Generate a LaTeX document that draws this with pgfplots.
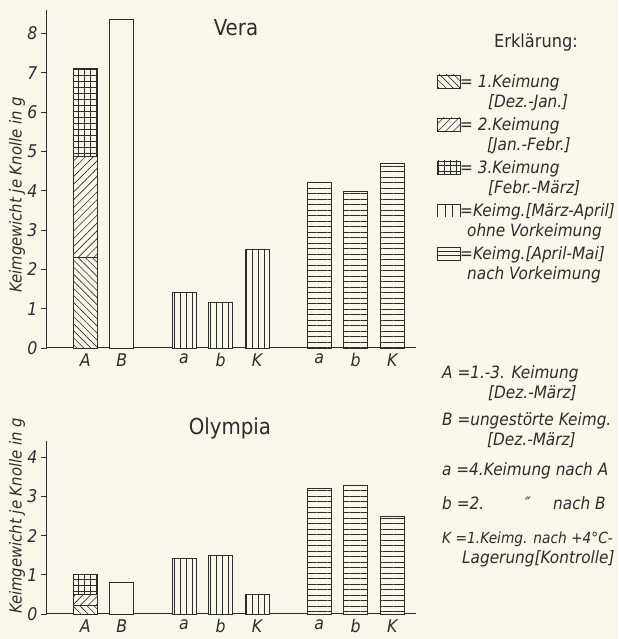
\documentclass[border=0pt]{standalone}
\usepackage{fontspec}
\setmainfont{DejaVu Sans Condensed}
\usepackage{pgfplots}
\pgfplotsset{compat=1.18}
\usetikzlibrary{patterns.meta}
\definecolor{paper}{RGB}{249,246,234}
\definecolor{ink}{RGB}{45,45,45}
\tikzset{
  pA/.style={pattern={Lines[angle=-45,distance=5pt,line width=0.6pt]},pattern color=ink},
  pB/.style={pattern={Lines[angle=45,distance=5.5pt,line width=0.6pt]},pattern color=ink},
  pC/.style={pattern={Hatch[angle=0,distance=6pt,line width=0.6pt]},pattern color=ink},
  pD/.style={pattern={Lines[angle=90,distance=6pt,line width=0.6pt]},pattern color=ink},
  pE/.style={pattern={Lines[angle=0,distance=5.5pt,line width=0.6pt]},pattern color=ink},
  lt/.style={anchor=base west,font=\fontsize{17}{17}\selectfont\itshape,inner sep=0pt,text=ink},
}
\pgfplotsset{
  bars/.style={ybar,bar width=24pt,bar shift=0pt,draw=ink,line width=0.9pt,fill=paper},
  b1/.style={bars,postaction={pA}},
  b2/.style={bars,postaction={pB}},
  b3/.style={bars,postaction={pC}},
  b4/.style={bars,postaction={pD}},
  b5/.style={bars,postaction={pE}},
  b0/.style={bars},
  common/.style={
    scale only axis,anchor=south west,
    width=369pt,xmin=-1.05,xmax=9.05,ymin=0,
    axis lines=left,axis line style={-,line width=1pt,draw=ink},
    xtick={0,1,2.7,3.7,4.7,6.4,7.4,8.4},
    xticklabels={A,B,a,b,K,a,b,K},
    xtick style={draw=none},
    xticklabel style={inner sep=0.5pt,yshift=1pt},
    tick align=outside,major tick length=6pt,
    ytick style={line width=0.8pt,draw=ink},
    tick label style={font=\fontsize{17.5}{17.5}\selectfont\itshape,text=ink},
    /pgf/number format/assume math mode=true,
    clip=false,
  },
}
\begin{document}
\begin{tikzpicture}
\fill[paper] (0pt,0pt) rectangle (618pt,639pt);
\path[use as bounding box] (0pt,0pt) rectangle (618pt,639pt);
% Vera
\begin{axis}[common,at={(47pt,291pt)},height=338pt,ymax=8.6,ytick={0,1,2,3,4,5,6,7,8}]
\addplot[b3] coordinates {(0,7.1)};
\addplot[b2] coordinates {(0,4.88)};
\addplot[b1] coordinates {(0,2.3)};
\addplot[b0] coordinates {(1,8.36)};
\addplot[b4] coordinates {(2.7,1.41) (3.7,1.16) (4.7,2.52)};
\addplot[b5] coordinates {(6.4,4.2) (7.4,3.98) (8.4,4.7)};
\end{axis}
% Olympia
\begin{axis}[common,at={(47pt,25pt)},height=172.5pt,ymax=4.4,ytick={0,1,2,3,4}]
\addplot[b3] coordinates {(0,1.0)};
\addplot[b2] coordinates {(0,0.5)};
\addplot[b1] coordinates {(0,0.22)};
\addplot[b0] coordinates {(1,0.81)};
\addplot[b4] coordinates {(2.7,1.41) (3.7,1.49) (4.7,0.49)};
\addplot[b5] coordinates {(6.4,3.21) (7.4,3.29) (8.4,2.5)};
\end{axis}
% titles and axis labels
\node[font=\fontsize{22}{22}\selectfont,text=ink] at (236pt,611pt) {Vera};
\node[font=\fontsize{22}{22}\selectfont,text=ink] at (230pt,211pt) {Olympia};
\node[rotate=90,font=\fontsize{16.5}{16.5}\selectfont\itshape,text=ink] at (17pt,444pt) {Keimgewicht je Knolle in g};
\node[rotate=90,font=\fontsize{16.5}{16.5}\selectfont\itshape,text=ink] at (17pt,123pt) {Keimgewicht je Knolle in g};
% legend
\node[anchor=base,inner sep=0pt,font=\fontsize{18}{18}\selectfont,text=ink] at (536pt,591pt) {Erklärung:};
\begin{scope}[draw=ink,line width=0.8pt]
\path[pA] (437pt,551pt) rectangle (460pt,564pt);
\draw (437pt,551pt) rectangle (460pt,564pt);
\path[pB] (437pt,508pt) rectangle (460pt,521pt);
\draw (437pt,508pt) rectangle (460pt,521pt);
\path[pC] (437pt,465pt) rectangle (460pt,478pt);
\draw (437pt,465pt) rectangle (460pt,478pt);
\draw (437pt,422pt) -- (437pt,435pt) -- (460pt,435pt) -- (460pt,422pt);
\draw (445pt,422pt) -- (445pt,435pt) (452pt,422pt) -- (452pt,435pt);
\draw (437pt,379pt) rectangle (460pt,392pt);
\draw (437pt,383.5pt) -- (460pt,383.5pt) (437pt,388pt) -- (460pt,388pt);
\end{scope}
\node[lt] at (460pt,551pt) {= 1.Keimung};
\node[lt] at (488pt,531pt) {[Dez.-Jan.]};
\node[lt] at (460pt,508pt) {= 2.Keimung};
\node[lt] at (487pt,488pt) {[Jan.-Febr.]};
\node[lt] at (460pt,465pt) {= 3.Keimung};
\node[lt] at (488pt,445pt) {[Febr.-März]};
\node[lt] at (460pt,422pt) {=Keimg.[März-April]};
\node[lt] at (467pt,402pt) {ohne Vorkeimung};
\node[lt] at (460pt,379pt) {=Keimg.[April-Mai]};
\node[lt] at (467pt,359pt) {nach Vorkeimung};
\node[lt] at (442pt,260pt) {A =1.-3. Keimung};
\node[lt] at (488pt,240pt) {[Dez.-März]};
\node[lt] at (442pt,213pt) {B =ungestörte Keimg.};
\node[lt] at (487pt,193pt) {[Dez.-März]};
\node[lt] at (442pt,163pt) {a =4.Keimung nach A};
\node[lt] at (442pt,129pt) {b =2.};
\node[lt] at (525pt,129pt) {″};
\node[lt] at (553pt,129pt) {nach B};
\node[lt,font=\fontsize{15.3}{15.3}\selectfont\itshape] at (442pt,95pt) {K =1.Keimg. nach +4°C-};
\node[lt] at (462pt,75pt) {Lagerung[Kontrolle]};
\end{tikzpicture}
\end{document}
